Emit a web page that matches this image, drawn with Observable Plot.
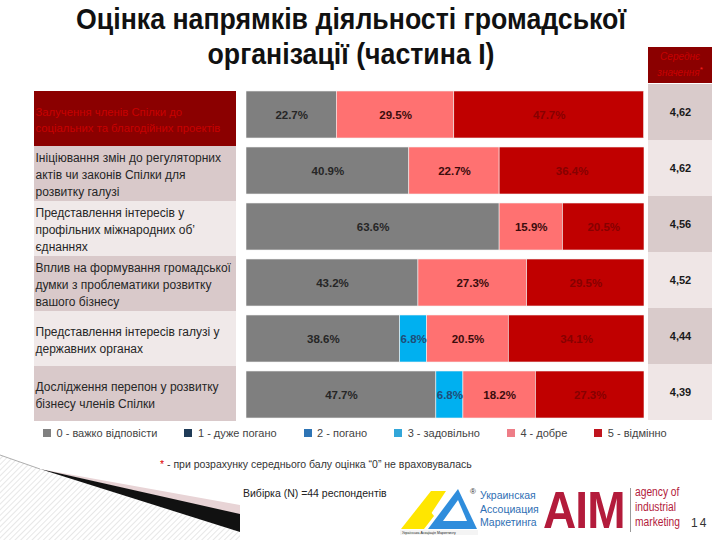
<!DOCTYPE html>
<html><head><meta charset="utf-8">
<script src="https://cdn.jsdelivr.net/npm/d3@7"></script>
<script src="https://cdn.jsdelivr.net/npm/@observablehq/plot@0.6"></script>
<style>
body{margin:0;background:#fff;}
#page{position:relative;width:720px;height:540px;overflow:hidden;font-family:"Liberation Sans",Arial,sans-serif;color:#262626;}
.abs{position:absolute;}
#title{left:0;top:1px;width:702px;text-align:center;font-weight:bold;font-size:30px;line-height:35px;color:#111;transform:scaleX(0.89);transform-origin:351px 0;}
#hdr{left:648px;top:47px;width:64px;height:36px;background:#8b0000;color:#c80000;font-style:italic;font-size:10px;line-height:13px;text-align:center;display:flex;align-items:center;justify-content:center;}
#hdr sup{color:#ff2020;font-size:8px;}
.lg-swatch{margin-right:27px !important;}
.lg-swatches-wrap{min-height:20px !important;}
#note{left:160px;top:458px;font-size:10.5px;color:#333;}
#note span{color:#e00000;}
#n{left:243px;top:487px;font-size:10.5px;color:#222;}
#uam{left:480px;top:489px;font-size:10.5px;line-height:13.5px;color:#2f6fb4;}
#pg{left:691px;top:516px;font-size:12px;color:#333;letter-spacing:2px;}
</style></head>
<body><div id="page">
<svg class="abs" style="left:0;top:0" width="720" height="540">
  <defs><pattern id="hatch" width="4" height="4" patternUnits="userSpaceOnUse" patternTransform="rotate(45)">
    <line x1="0" y1="0" x2="0" y2="4" stroke="#cfcfcf" stroke-width="1"/></pattern></defs>
  <polygon points="0,455 40,469 240,532 240,540 0,540" fill="url(#hatch)"/>
  <polygon points="40,469 240,505 240,515" fill="#e8d4d6"/>
  <polygon points="40,469 240,514 240,532" fill="#111"/>
  <line x1="0" y1="455" x2="40" y2="469" stroke="#999" stroke-width="0.8"/>
  <polygon points="401,529 431,491 446,491 421,529" fill="#ffe600"/>
  <polygon points="404,529 424,503 434,516 424,529" fill="#ffe600"/>
  <polygon points="428,529 458,489 477,529" fill="#2f8ddc"/>
  <polygon points="443,521 458,500 467,521" fill="#fff"/>
  <rect x="400" y="530" width="78" height="5" fill="#f4f4f4"/>
  <text x="470" y="494" font-size="8" fill="#333" font-family="Liberation Sans">®</text>
  <text x="402" y="534" font-size="3.5" fill="#222" font-family="Liberation Sans">Українська Асоціація Маркетингу</text>
  <text transform="translate(543,528) scale(0.92,1.04)" x="0" y="0" font-size="50" font-weight="bold" fill="#b31b3b" font-family="Liberation Sans" letter-spacing="-1">AIM</text>
  <line x1="630.5" y1="488" x2="630.5" y2="532" stroke="#999" stroke-width="1"/>
  <g font-size="12.5" fill="#b31b3b" font-family="Liberation Sans" transform="translate(635,0) scale(0.82,1)">
    <text x="0" y="496">agency of</text>
    <text x="0" y="511">industrial</text>
    <text x="0" y="526">marketing</text>
  </g>
</svg>
<div id="title" class="abs">Оцінка напрямків діяльності громадської<br>організації (частина І)</div>
<div id="hdr" class="abs"><div>Середнє<br>значення<sup>*</sup></div></div>
<div id="left" class="abs" style="left:34px;top:89px"></div>
<div id="bars" class="abs" style="left:246px;top:88px"></div>
<div id="right" class="abs" style="left:648px;top:83px"></div>
<div id="legend" class="abs" style="left:43px;top:423px"></div>
<div id="note" class="abs"><span>*</span> - при розрахунку середнього балу оцінка “0” не враховувалась</div>
<div id="n" class="abs">Вибірка (N) =44 респондентів</div>
<div id="uam" class="abs">Украинская<br>Ассоциация<br>Маркетинга</div>
<div id="pg" class="abs">14</div>
</div>
<script>
// ---- data ----
const categories = [
  "Залучення членів Спілки до\nсоціальних та благодійних проектів",
  "Ініціювання змін до регуляторних\nактів чи законів Спілки для\nрозвитку галузі",
  "Представлення інтересів у\nпрофільних міжнародних об’\nєднаннях",
  "Вплив на формування громадської\nдумки з проблематики розвитку\nвашого бізнесу",
  "Представлення інтересів галузі у\nдержавних органах",
  "Дослідження перепон у розвитку\nбізнесу членів Спілки"
];
const scores = ["0", "1", "2", "3", "4", "5"];
const legendLabels = ["0 - важко відповісти", "1 - дуже погано", "2 - погано", "3 - задовільно", "4 - добре", "5 - відмінно"];
const share0 = [22.7, 40.9, 63.6, 43.2, 38.6, 47.7];
const share1 = [0, 0, 0, 0, 0, 0];
const share2 = [0, 0, 0, 0, 0, 0];
const share3 = [0, 0, 0, 0, 6.8, 6.8];
const share4 = [29.5, 22.7, 15.9, 27.3, 20.5, 18.2];
const share5 = [47.7, 36.4, 20.5, 29.5, 34.1, 27.3];
const means = [4.62, 4.62, 4.56, 4.52, 4.44, 4.39];

// ---- styles ----
const barColors = {"0": "#7f7f7f", "1": "#1f3b5a", "2": "#2e75b6", "3": "#00b0f0", "4": "#ff7171", "5": "#c00000"};
const textColors = {"0": "#262626", "1": "#fff", "2": "#fff", "3": "#1f4e79", "4": "#3a0c0c", "5": "#860000"};
const legendColors = ["#808080", "#1f3b57", "#2e74b5", "#32a6d9", "#ee7d87", "#c0141e"];
const leftBg = ["#8b0000", "#d9c9ca", "#f0e9e9", "#d9c9ca", "#f0e9e9", "#d9c9ca"];
const leftFg = ["#c80000", "#262626", "#262626", "#262626", "#262626", "#262626"];
const rightBg = ["#d9cbcb", "#efe6e6", "#d9cbcb", "#efe6e6", "#d9cbcb", "#efe6e6"];
const font = "Liberation Sans, Arial, sans-serif";

const shares = [share0, share1, share2, share3, share4, share5];
const rows = [];
categories.forEach((cat, i) => {
  scores.forEach((s, j) => {
    const v = shares[j][i];
    if (v > 0) rows.push({cat, score: s, value: v});
  });
});

// left label table
const leftPlot = Plot.plot({
  width: 202, height: 334, margin: 0,
  style: {fontFamily: font, background: "transparent"},
  x: {axis: null},
  y: {domain: categories, axis: null, padding: 0},
  color: {type: "identity"},
  marks: [
    Plot.cell(categories, {y: d => d, fill: (d, i) => leftBg[i]}),
    Plot.text(categories, {y: d => d, text: d => d, frameAnchor: "left", textAnchor: "start", dx: 1,
      fill: (d, i) => leftFg[i], fontSize: (d, i) => i === 0 ? 11.3 : 12, lineHeight: 1.42, fontFamily: font})
  ]
});
document.getElementById("left").append(leftPlot);

// bars
const barPlot = Plot.plot({
  width: 398, height: 334, margin: 0,
  style: {fontFamily: font, background: "transparent"},
  x: {domain: [0, 100], axis: null},
  y: {domain: categories, axis: null, paddingInner: 0.16, paddingOuter: 0.05},
  color: {type: "identity"},
  marks: [
    Plot.barX(rows, Plot.stackX({x: "value", y: "cat", fill: d => barColors[d.score], stroke: "#f2f2f2", strokeWidth: 0.6})),
    Plot.text(rows, Plot.stackX({x: "value", y: "cat", text: d => d.value.toFixed(1) + "%",
      fill: d => textColors[d.score], fontWeight: "bold", fontSize: 11.5, fontFamily: font}))
  ]
});
document.getElementById("bars").append(barPlot);

// right mean column
const rightPlot = Plot.plot({
  width: 64, height: 337, margin: 0,
  style: {fontFamily: font, background: "transparent"},
  x: {axis: null},
  y: {domain: categories, axis: null, padding: 0},
  color: {type: "identity"},
  marks: [
    Plot.cell(categories, {y: d => d, fill: (d, i) => rightBg[i]}),
    Plot.text(categories, {y: d => d, text: (d, i) => means[i].toFixed(2).replace(".", ","), frameAnchor: "middle",
      fill: "#1a1a1a", fontWeight: "bold", fontSize: 11, fontFamily: font})
  ]
});
document.getElementById("right").append(rightPlot);

// legend
const leg = Plot.legend({
  color: {type: "ordinal", domain: legendLabels, range: legendColors},
  swatchSize: 8, className: "lg",
  style: {fontFamily: font, fontSize: "11px", color: "#444"}
});
document.getElementById("legend").append(leg);
</script>
</body></html>
